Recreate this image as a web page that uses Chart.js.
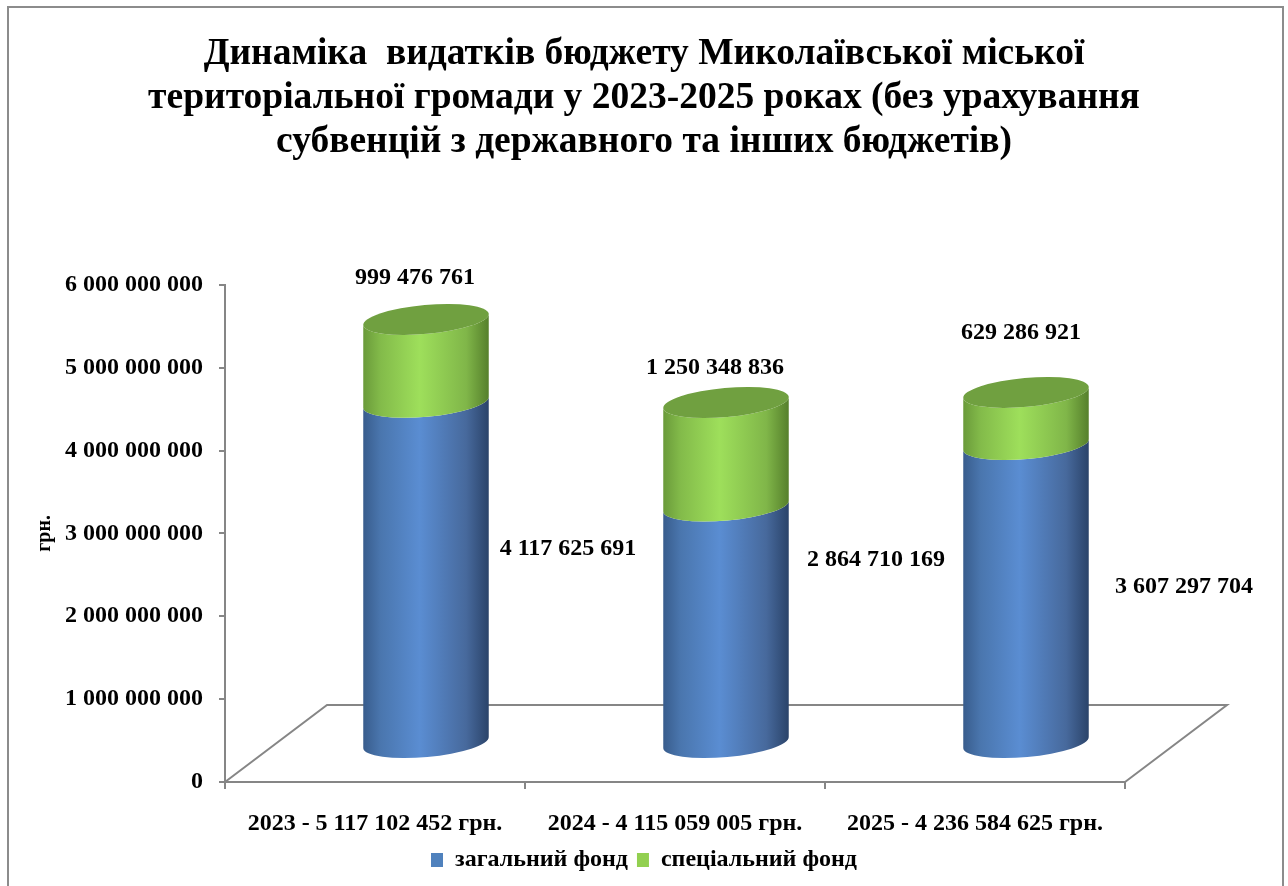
<!DOCTYPE html>
<html lang="uk">
<head>
<meta charset="utf-8">
<title>Динаміка видатків бюджету</title>
<script src="https://cdn.jsdelivr.net/npm/chart.js@4.4.1/dist/chart.umd.min.js"></script>
<style>
  html, body { margin: 0; padding: 0; background: #fff; }
  #wrap { width: 1288px; height: 886px; position: relative; }
</style>
</head>
<body>
<div id="wrap"><canvas id="budget"></canvas></div>
<script>
// data
const YEARS = ["2023 - 5 117 102 452 грн.", "2024 - 4 115 059 005 грн.", "2025 - 4 236 584 625 грн."];
const GENERAL_FUND = [4117625691, 2864710169, 3607297704];
const SPECIAL_FUND = [999476761, 1250348836, 629286921];
const SERIES_NAMES = ["загальний фонд", "спеціальний фонд"];
const TITLE_LINES = [
  "Динаміка  видатків бюджету Миколаївської міської",
  "територіальної громади у 2023-2025 роках (без урахування",
  "субвенцій з державного та інших бюджетів)"
];
const Y_MAX = 6000000000;
const Y_STEP = 1000000000;
const Y_TITLE = "грн.";

const FONT = "'Liberation Serif', 'Times New Roman', serif";
const AXIS_GREY = "#868686";
const DEPTH = { x: 102, y: -77 };   // depth of the 3-D floor

const SHADES = [
  { stops: ["#385c8c", "#4a76ae", "#5a8dd2", "#47699c", "#2a4369"], lid: "#4f7fbf" },
  { stops: ["#6a9a3a", "#83bb4a", "#9edf5b", "#80b649", "#557f2b"], lid: "#70a040" }
];

function fmt(v) {
  return String(v).replace(/\B(?=(\d{3})+(?!\d))/g, " ");
}

function drawCylinder(ctx, cx, yBottom, yTop, rx, shade, withLid) {
  const ry = rx * 0.23, tilt = -0.09;
  const grad = ctx.createLinearGradient(cx - rx, 0, cx + rx, 0);
  [0, 0.14, 0.45, 0.82, 1].forEach((s, i) => grad.addColorStop(s, shade.stops[i]));
  ctx.beginPath();
  ctx.ellipse(cx, yBottom, rx, ry, tilt, 0, Math.PI);
  ctx.ellipse(cx, yTop, rx, ry, tilt, Math.PI, 0, true);
  ctx.closePath();
  ctx.fillStyle = grad;
  ctx.fill();
  if (withLid) {
    ctx.beginPath();
    ctx.ellipse(cx, yTop, rx, ry, tilt, 0, Math.PI * 2);
    ctx.fillStyle = shade.lid;
    ctx.fill();
  }
}

/** frame around the whole picture */
const frame = {
  id: "frame",
  beforeDraw(chart) {
    const ctx = chart.ctx;
    ctx.save();
    ctx.strokeStyle = "#8c8c8c";
    ctx.lineWidth = 2;
    ctx.strokeRect(8, 7, 1275, 900);
    ctx.restore();
  }
};

/** floor, cylinders and value labels drawn from the bar elements */
const cylinders = {
  id: "cylinders",
  beforeDatasetsDraw(chart) {
    const { ctx, chartArea: a } = chart;
    ctx.save();
    ctx.strokeStyle = AXIS_GREY;
    ctx.lineWidth = 2;
    ctx.beginPath();
    ctx.moveTo(a.left, a.bottom);
    ctx.lineTo(a.left + DEPTH.x, a.bottom + DEPTH.y);
    ctx.lineTo(a.right + DEPTH.x, a.bottom + DEPTH.y);
    ctx.lineTo(a.right, a.bottom);
    ctx.stroke();
    ctx.restore();
  },
  beforeDatasetDraw() {
    return false; // flat bars are replaced by cylinders
  },
  afterDatasetsDraw(chart, args, opts) {
    const ctx = chart.ctx;
    const dx = DEPTH.x / 2, dy = DEPTH.y / 2;
    const metas = chart.data.datasets.map((d, k) => chart.getDatasetMeta(k));
    ctx.save();
    metas[0].data.forEach((_, i) => {
      metas.forEach((meta, k) => {
        const bar = meta.data[i];
        drawCylinder(ctx, bar.x + dx, bar.base + dy, bar.y + dy, bar.width / 2,
          SHADES[k], k === metas.length - 1);
      });
    });

    ctx.font = `bold 24px ${FONT}`;
    ctx.fillStyle = "#000";
    ctx.textAlign = "center";
    ctx.textBaseline = "middle";
    metas.forEach((meta, k) => {
      meta.data.forEach((bar, i) => {
        const v = chart.data.datasets[k].data[i];
        const n = opts.nudge[k][i];
        const cx = bar.x + dx;
        let x, y;
        if (k === 0) { x = cx + 150; y = (bar.y + bar.base) / 2 + dy - 32; }
        else { x = cx - 9; y = bar.y + dy - 45; }
        ctx.fillText(fmt(v), x + n[0], y + n[1]);
      });
    });
    ctx.restore();
  }
};

const tickFont = { family: FONT, size: 24, weight: "bold" };

new Chart(document.getElementById("budget"), {
  type: "bar",
  data: {
    labels: YEARS,
    datasets: [
      { label: SERIES_NAMES[0], data: GENERAL_FUND, backgroundColor: "#4f81bd" },
      { label: SERIES_NAMES[1], data: SPECIAL_FUND, backgroundColor: "#92d050" }
    ]
  },
  plugins: [frame, cylinders],
  options: {
    responsive: true,
    maintainAspectRatio: false,
    animation: false,
    categoryPercentage: 1,
    barPercentage: 0.42,
    layout: { padding: { top: 0, left: 0, right: 0, bottom: 4 } },
    plugins: {
      cylinders: {
        nudge: [
          [[-8, 8], [0, -32], [8, 25]],
          [[-2, 3], [-2, 10], [4, -15]]
        ]
      },
      title: {
        display: true,
        text: TITLE_LINES,
        color: "#000",
        font: { family: FONT, size: 37.5, weight: "bold", lineHeight: 1.18 },
        padding: { top: 32, bottom: 120 }
      },
      legend: {
        position: "bottom",
        labels: {
          color: "#000",
          font: tickFont,
          boxWidth: 12,
          boxHeight: 14,
          padding: 9
        }
      },
      tooltip: { enabled: false }
    },
    scales: {
      x: {
        stacked: true,
        grid: { drawOnChartArea: false, tickLength: 7, color: AXIS_GREY, lineWidth: 2, offset: true },
        border: { color: AXIS_GREY, width: 2 },
        ticks: { color: "#000", font: tickFont, padding: 20, maxRotation: 0 },
        afterFit(s) { s.height = 57; }
      },
      y: {
        stacked: true,
        min: 0,
        max: Y_MAX,
        grid: { drawOnChartArea: false, tickLength: 6, color: AXIS_GREY, lineWidth: 2 },
        border: { color: AXIS_GREY, width: 2 },
        ticks: { stepSize: Y_STEP, color: "#000", font: tickFont, padding: 16, callback: v => fmt(v) },
        title: {
          display: true,
          text: Y_TITLE,
          color: "#000",
          font: { family: FONT, size: 20, weight: "bold" },
          padding: { top: 33, bottom: 0 }
        },
        afterFit(s) { s.width = 225; }
      },
      room: {
        type: "linear",
        position: "right",
        grid: { display: false },
        border: { display: false },
        ticks: { display: false },
        afterFit(s) { s.width = 163; }
      }
    }
  }
});
</script>
</body>
</html>
